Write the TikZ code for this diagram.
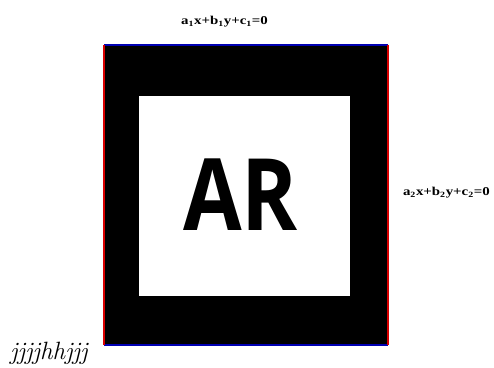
\documentclass[tikz,border=0pt]{standalone}
\usepackage{fontspec}
\setmainfont{Liberation Serif}
\newfontfamily\arfont{Open Sans}
\newfontfamily\capfont{Latin Modern Roman}
\usepackage{tikz}

\begin{document}
\begin{tikzpicture}[x=1pt, y=-1pt, every node/.style={inner sep=0pt, outer sep=0pt}, line label/.style={font=\bfseries\fontsize{12}{14}\selectfont, xscale=1.24, transform shape}, edge v/.style={red!85!black, line width=1.6pt}, edge h/.style={blue!70!black, line width=1.8pt}]
	\useasboundingbox (0,0) rectangle (494,367);
	\node (marker) [fill=black, minimum width=284, minimum height=300] at (246,195) {};
	\node (inner) [fill=white, minimum width=211, minimum height=200] at (244.5,196) {};
	\node (ar) [anchor=base, xscale=0.85, transform shape, font=\arfont\bfseries\fontsize{100}{110}\selectfont] at (240.5,230) {AR};
	% coloured edges of the marker
	\draw[edge h] (marker.north west) -- (marker.north east);
	\draw[edge h] (marker.south west) -- (marker.south east);
	\draw[edge v] (marker.north west) -- (marker.south west);
	\draw[edge v] (marker.north east) -- (marker.south east);
	\node (top line) [line label] at (224.5,21.5) {a\textsubscript{1}x+b\textsubscript{1}y+c\textsubscript{1}=0};
	\node (right line) [line label, anchor=west] at (403,193) {a\textsubscript{2}x+b\textsubscript{2}y+c\textsubscript{2}=0};
	\node (caption) [anchor=base west, font=\capfont\itshape\fontsize{25}{30}\selectfont] at (10,359) {jjjjhhjjj};
\end{tikzpicture}
\end{document}
